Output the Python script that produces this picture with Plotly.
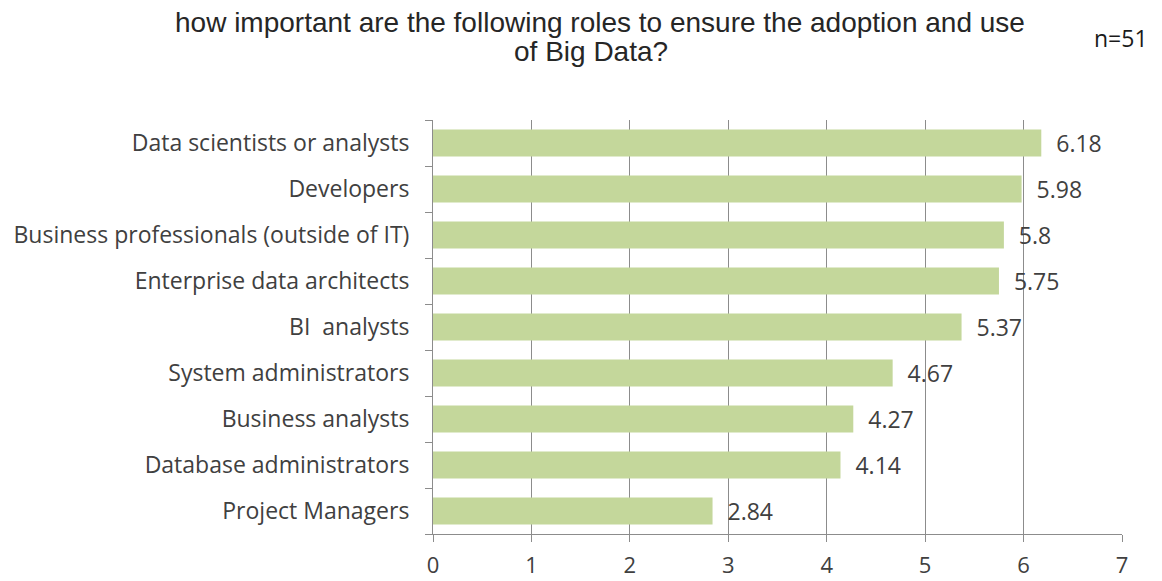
import plotly.graph_objects as go

roles = [
    "Data scientists or analysts",
    "Developers",
    "Business professionals (outside of IT)",
    "Enterprise data architects",
    "BI  analysts",
    "System administrators",
    "Business analysts",
    "Database administrators",
    "Project Managers",
]
scores = [6.18, 5.98, 5.8, 5.75, 5.37, 4.67, 4.27, 4.14, 2.84]
x_ticks = [0, 1, 2, 3, 4, 5, 6, 7]

title_lines = [
    "how important are the following roles to ensure the adoption and use",
    "of Big Data?",
]
sample_note = "n=51"

text_color = "#404040"
grid_color = "#8c8c8c"
title_font = dict(family="Liberation Sans, Arial, sans-serif", size=28, color="#262626")

fig = go.Figure(
    go.Bar(
        x=scores,
        y=roles,
        orientation="h",
        marker=dict(color="#c4d79b", line=dict(width=0)),
        width=0.59,
        text=[f"  {v:g}" for v in scores],
        textposition="outside",
        constraintext="none",
        cliponaxis=False,
        textfont=dict(family="Open Sans, sans-serif", size=23, color=text_color),
    )
)

# two-line heading, each line placed on its own
fig.add_annotation(text=title_lines[0], xref="paper", yref="paper", x=0.2424, y=1.2367,
                   xanchor="center", yanchor="middle", showarrow=False, font=title_font)
fig.add_annotation(text=title_lines[1], xref="paper", yref="paper", x=0.2286, y=1.1643,
                   xanchor="center", yanchor="middle", showarrow=False, font=title_font)
fig.add_annotation(text=sample_note, xref="paper", yref="paper", x=0.9985, y=1.198,
                   xanchor="center", yanchor="middle", showarrow=False,
                   font=dict(family="Open Sans, sans-serif", size=23, color="#1a1a1a"))

fig.update_layout(
    width=1162,
    height=581,
    margin=dict(l=433, r=40, t=120, b=47),
    paper_bgcolor="white",
    plot_bgcolor="white",
    showlegend=False,
)

fig.update_xaxes(
    range=[0, 7],
    tickvals=x_ticks,
    showgrid=True,
    gridcolor=grid_color,
    gridwidth=1,
    showline=True,
    linecolor=grid_color,
    ticks="outside",
    ticklen=7,
    tickcolor=grid_color,
    ticklabelstandoff=5,
    tickfont=dict(family="Open Sans, sans-serif", size=22, color=text_color),
    zeroline=False,
    automargin=False,
    fixedrange=True,
)

fig.update_yaxes(
    categoryorder="array",
    categoryarray=roles[::-1],
    showline=True,
    linecolor=grid_color,
    ticks="outside",
    tickson="boundaries",
    ticklen=7,
    tickcolor=grid_color,
    ticklabelstandoff=18,
    tickfont=dict(family="Open Sans, sans-serif", size=23, color=text_color),
    showgrid=False,
    automargin=False,
    fixedrange=True,
)

fig.write_html("out.html")
